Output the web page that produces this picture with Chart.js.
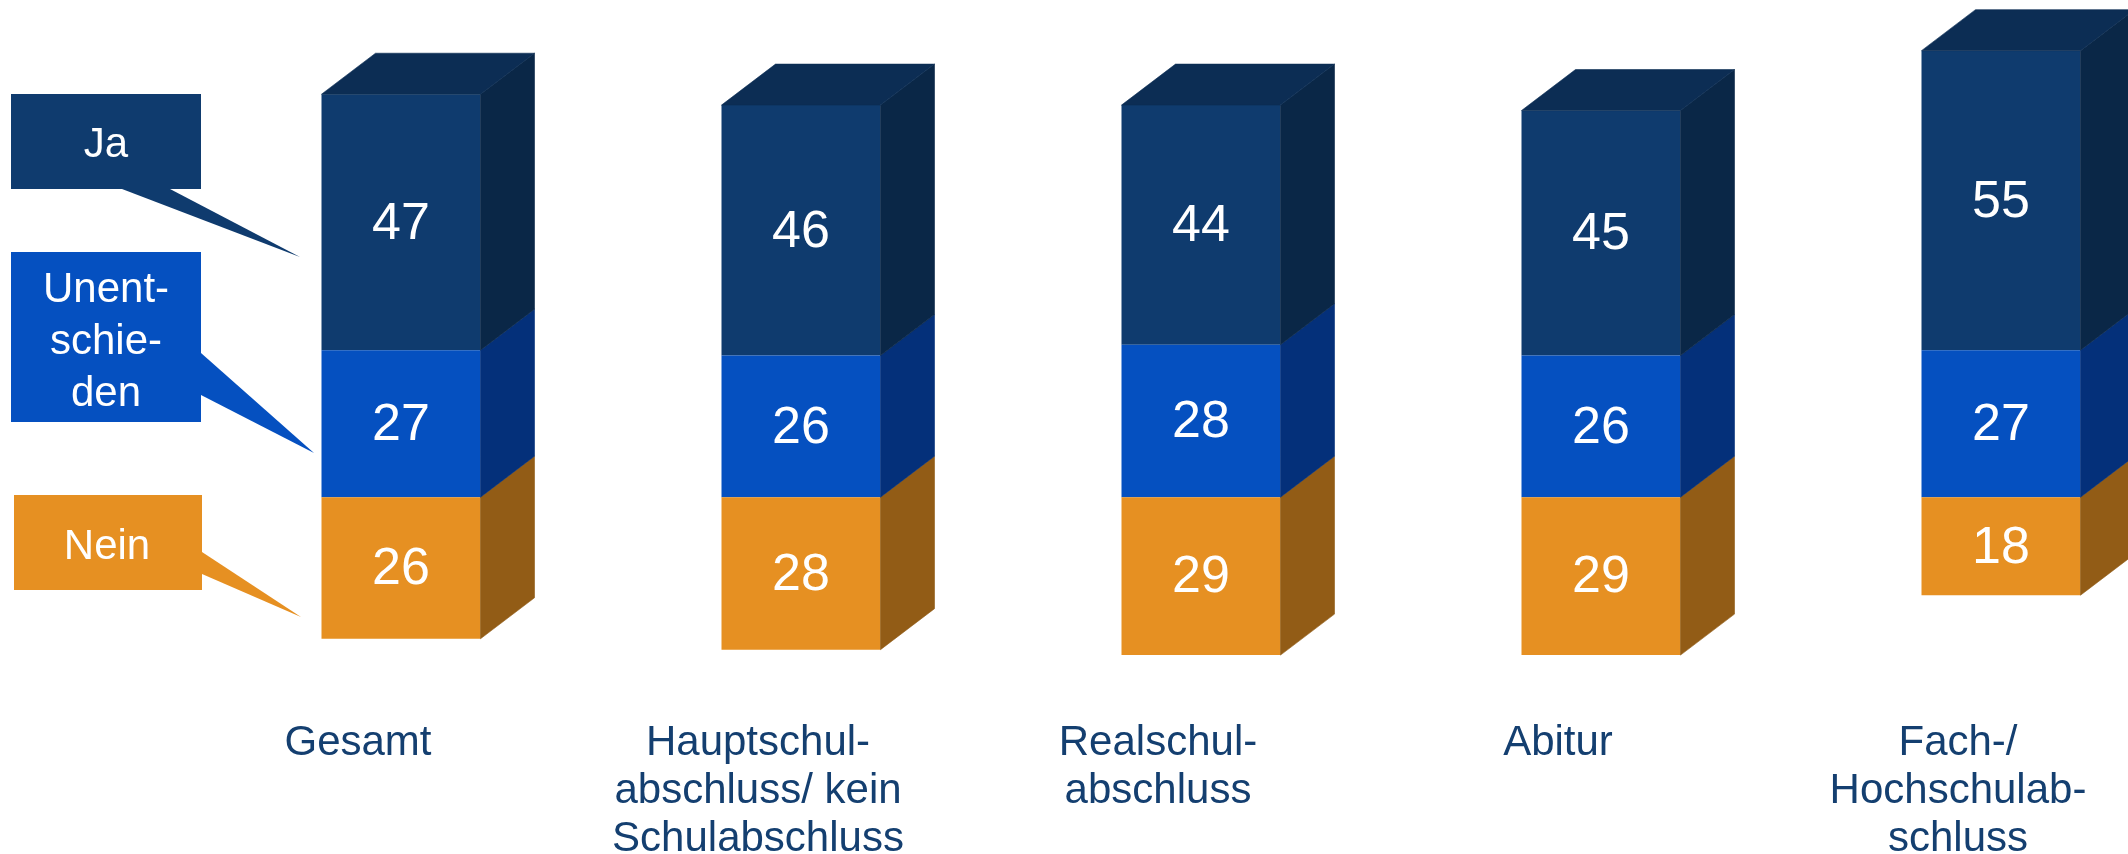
<!DOCTYPE html>
<html>
<head>
<meta charset="utf-8">
<script src="https://cdn.jsdelivr.net/npm/chart.js@4.4.1/dist/chart.umd.min.js"></script>
<style>
  html, body { margin: 0; padding: 0; background: #ffffff; overflow: hidden; width: 2128px; height: 854px; }
  #wrap { position: absolute; left: 0; top: 0; width: 2300px; height: 865px; }
  canvas { display: block; }
</style>
</head>
<body>
<div id="wrap"><canvas id="c" width="2300" height="865"></canvas></div>
<script>
// ---- data ----
const categories = [
  ['Gesamt'],
  ['Hauptschul-', 'abschluss/ kein', 'Schulabschluss'],
  ['Realschul-', 'abschluss'],
  ['Abitur'],
  ['Fach-/', 'Hochschulab-', 'schluss']
];
const seriesNames = ['Nein', 'Unentschieden', 'Ja'];
const nein = [26, 28, 29, 29, 18];
const unentschieden = [27, 26, 28, 26, 27];
const ja = [47, 46, 44, 45, 55];

// ---- style ----
const FONT = "'Liberation Sans', Arial, Helvetica, sans-serif";
const DX = 54, DY = 41;
const styles = [
  { front: '#e69022', side: '#925c16', top: null },
  { front: '#0550c0', side: '#04307a', top: null },
  { front: '#0f3b6e', side: '#0a2747', top: '#0c2d54' }
];

const bar3d = {
  id: 'bar3d',
  afterDatasetsDraw(chart) {
    const ctx = chart.ctx;
    ctx.save();
    chart.data.datasets.forEach((ds, di) => {
      const meta = chart.getDatasetMeta(di);
      const st = styles[di];
      meta.data.forEach((bar, i) => {
        const p = bar.getProps(['x', 'y', 'base', 'width'], true);
        const l = p.x - p.width / 2, r = p.x + p.width / 2;
        const t = Math.min(p.y, p.base), b = Math.max(p.y, p.base);
        ctx.fillStyle = st.side;
        ctx.strokeStyle = st.side;
        ctx.lineWidth = 0.6;
        ctx.beginPath();
        ctx.moveTo(r, t); ctx.lineTo(r + DX, t - DY); ctx.lineTo(r + DX, b - DY); ctx.lineTo(r, b);
        ctx.closePath(); ctx.fill(); ctx.stroke();
        if (st.top) {
          ctx.fillStyle = st.top;
          ctx.strokeStyle = st.top;
          ctx.beginPath();
          ctx.moveTo(l, t); ctx.lineTo(l + DX, t - DY); ctx.lineTo(r + DX, t - DY); ctx.lineTo(r, t);
          ctx.closePath(); ctx.fill(); ctx.stroke();
        }
        // value label
        const v = ds.rawValues[i];
        ctx.fillStyle = '#ffffff';
        ctx.font = '52px ' + FONT;
        ctx.textAlign = 'center';
        ctx.textBaseline = 'middle';
        ctx.fillText(String(v), p.x, (t + b) / 2 + 2);
      });
    });
    ctx.restore();
  },
  afterDraw(chart) {
    const ctx = chart.ctx;
    ctx.save();
    const callouts = [
      { color: '#0f3b6e', box: [11, 94, 201, 189], ptr: [[170, 189], [300, 257], [122, 189]], lines: ['Ja'], cx: 106, cy: 145, lh: 52 },
      { color: '#0550c0', box: [11, 252, 201, 422], ptr: [[201, 353], [314, 453], [201, 395]], lines: ['Unent-', 'schie-', 'den'], cx: 106, cy: 342, lh: 52 },
      { color: '#e69022', box: [14, 495, 202, 590], ptr: [[202, 552], [301, 617], [202, 574]], lines: ['Nein'], cx: 107, cy: 547, lh: 52 }
    ];
    callouts.forEach(c => {
      ctx.fillStyle = c.color;
      ctx.fillRect(c.box[0], c.box[1], c.box[2] - c.box[0], c.box[3] - c.box[1]);
      ctx.beginPath();
      ctx.moveTo(c.ptr[0][0], c.ptr[0][1]);
      ctx.lineTo(c.ptr[1][0], c.ptr[1][1]);
      ctx.lineTo(c.ptr[2][0], c.ptr[2][1]);
      ctx.closePath();
      ctx.fill();
      ctx.fillStyle = '#ffffff';
      ctx.font = '42px ' + FONT;
      ctx.textAlign = 'center';
      ctx.textBaseline = 'middle';
      const n = c.lines.length;
      c.lines.forEach((s, k) => {
        ctx.fillText(s, c.cx, c.cy + (k - (n - 1) / 2) * c.lh);
      });
    });
    ctx.restore();
  }
};

const seriesValues = [nein.map(v => -v), unentschieden, ja];
const rawSeries = [nein, unentschieden, ja];

new Chart(document.getElementById('c'), {
  type: 'bar',
  data: {
    labels: categories,
    datasets: seriesNames.map((name, i) => ({
      label: name,
      data: seriesValues[i],
      rawValues: rawSeries[i],
      backgroundColor: styles[i].front,
      borderWidth: 0,
      categoryPercentage: 1,
      barPercentage: 0.3975
    }))
  },
  options: {
    responsive: false,
    devicePixelRatio: 1,
    animation: false,
    layout: { padding: { left: 201, right: 99, top: 8, bottom: 0 } },
    plugins: { legend: { display: false }, tooltip: { enabled: false } },
    scales: {
      x: {
        stacked: true,
        grid: { display: false, drawTicks: false },
        border: { display: false },
        ticks: {
          color: '#143f70',
          font: { family: FONT, size: 42, lineHeight: 1.14 },
          padding: 2,
          labelOffset: -43,
          maxRotation: 0,
          minRotation: 0,
          autoSkip: false
        }
      },
      y: {
        stacked: true,
        display: false,
        min: -40.43,
        max: 89.83
      }
    }
  },
  plugins: [bar3d]
});
</script>
</body>
</html>
